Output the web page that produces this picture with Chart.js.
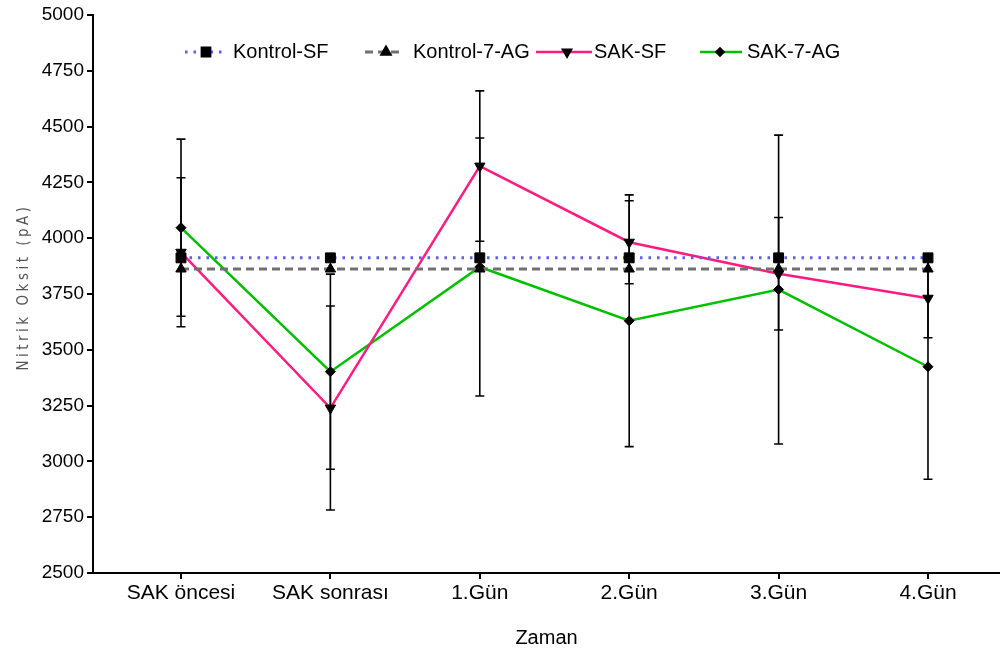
<!DOCTYPE html>
<html>
<head>
<meta charset="utf-8">
<script src="https://cdn.jsdelivr.net/npm/chart.js@4.4.1/dist/chart.umd.min.js"></script>
<style>
    html, body { margin: 0; padding: 0; background: #fff; overflow: hidden; }
</style>
</head>
<body>
<canvas id="noChart" width="1000" height="652"></canvas>
<script>
// Time points (x axis)
const timeLabels = ['SAK öncesi', 'SAK sonrası', '1.Gün', '2.Gün', '3.Gün', '4.Gün'];

// Y axis ticks
const yMin = 2500;
const yMax = 5000;
const yStep = 250;

// Series means
const kontrolSF = [3912, 3912, 3912, 3912, 3912, 3912];
const kontrol7AG = [3862, 3862, 3862, 3862, 3862, 3862];
const sakSF = [3937, 3239, 4323, 3982, 3841, 3731];
const sak7AG = [4047, 3402, 3871, 3630, 3770, 3424];

// Error bars (SEM, +/-)
const sakSFErr = [334, 457, 337, 186, 252, 177];
const sak7AGErr = [397, 437, 578, 564, 692, 504];

const toPoints = arr => arr.map((v, i) => ({ x: i, y: v }));

const seriesStyles = [
    { label: 'Kontrol-SF', data: kontrolSF, err: null, color: '#5c5cf2', dash: [2.5, 6], width: 3, pointStyle: 'rect', radius: 7, rotation: 0 },
    { label: 'Kontrol-7-AG', data: kontrol7AG, err: null, color: '#707070', dash: [8, 5], width: 3, pointStyle: 'triangle', radius: 6, rotation: 0 },
    { label: 'SAK-SF', data: sakSF, err: sakSFErr, color: '#ff1a80', dash: [], width: 2.5, pointStyle: 'triangle', radius: 6, rotation: 180 },
    { label: 'SAK-7-AG', data: sak7AG, err: sak7AGErr, color: '#00c000', dash: [], width: 2.5, pointStyle: 'rectRot', radius: 5, rotation: 0 }
];

// Legend layout: marker centre x, line half-lengths
const legendX = [206, 386, 567, 720];
const legendLineL = [21, 21, 31, 20];
const legendLineR = [16, 17, 25, 22];
const legendY = 52;

// Error bars drawn through the chart scales
const errorBarPlugin = {
    id: 'errorBars',
    beforeDatasetsDraw(chart) {
        const ctx = chart.ctx;
        const xs = chart.scales.x;
        const ys = chart.scales.y;
        ctx.save();
        ctx.strokeStyle = '#000';
        ctx.lineWidth = 1.6;
        seriesStyles.forEach(s => {
            if (!s.err) return;
            s.data.forEach((v, i) => {
                const px = xs.getPixelForValue(i);
                const top = ys.getPixelForValue(v + s.err[i]);
                const bot = ys.getPixelForValue(v - s.err[i]);
                ctx.beginPath();
                ctx.moveTo(px, top);
                ctx.lineTo(px, bot);
                ctx.moveTo(px - 4.5, top);
                ctx.lineTo(px + 4.5, top);
                ctx.moveTo(px - 4.5, bot);
                ctx.lineTo(px + 4.5, bot);
                ctx.stroke();
            });
        });
        ctx.restore();
    }
};

// Legend inside the plot + spaced y title
const extrasPlugin = {
    id: 'extras',
    afterDraw(chart) {
        const ctx = chart.ctx;
        ctx.save();
        seriesStyles.forEach((s, i) => {
            const cx = legendX[i];
            ctx.strokeStyle = s.color;
            ctx.lineWidth = s.width;
            ctx.setLineDash(s.dash);
            ctx.beginPath();
            ctx.moveTo(cx - legendLineL[i], legendY);
            ctx.lineTo(cx + legendLineR[i], legendY);
            ctx.stroke();
            ctx.setLineDash([]);
            ctx.fillStyle = '#000';
            ctx.strokeStyle = '#000';
            Chart.helpers.drawPoint(ctx, {
                pointStyle: s.pointStyle,
                radius: s.radius - 1.5,
                rotation: s.rotation,
                borderWidth: 1
            }, cx, legendY);
            ctx.fillStyle = '#000';
            ctx.font = '20px "Liberation Sans", Arial, sans-serif';
            ctx.textBaseline = 'middle';
            ctx.textAlign = 'left';
            ctx.fillText(s.label, cx + 27, legendY);
        });

        // Y axis title
        ctx.translate(24, 287);
        ctx.rotate(-Math.PI / 2);
        ctx.fillStyle = '#555';
        ctx.font = '15px "Liberation Sans Narrow", "DejaVu Sans Condensed", sans-serif';
        if ('letterSpacing' in ctx) ctx.letterSpacing = '3.5px';
        ctx.textAlign = 'center';
        ctx.textBaseline = 'middle';
        ctx.fillText('Nitrik Oksit (pA)', 0, 0);
        ctx.restore();
    }
};

const datasets = seriesStyles.map(s => ({
    label: s.label,
    data: toPoints(s.data),
    borderColor: s.color,
    borderWidth: s.width,
    borderDash: s.dash,
    pointStyle: s.pointStyle,
    pointRadius: s.radius,
    pointRotation: s.rotation,
    pointBackgroundColor: '#000',
    pointBorderColor: '#000',
    pointBorderWidth: 1,
    tension: 0,
    fill: false
}));

const ctx = document.getElementById('noChart');
new Chart(ctx, {
    type: 'line',
    data: { datasets: datasets },
    options: {
        responsive: false,
        animation: false,
        layout: { autoPadding: false, padding: { top: 15, right: 0, left: 0, bottom: 0 } },
        plugins: {
            legend: { display: false },
            tooltip: { enabled: false }
        },
        scales: {
            x: {
                type: 'linear',
                min: -0.589,
                max: 5.482,
                afterBuildTicks: scale => {
                    scale.ticks = timeLabels.map((_, i) => ({ value: i }));
                },
                afterFit: scale => {
                    scale.height = 79;
                    scale.paddingLeft = 0;
                    scale.paddingRight = 0;
                },
                ticks: {
                    color: '#000',
                    font: { family: '"Liberation Sans", Arial, sans-serif', size: 21 },
                    padding: 2,
                    maxRotation: 0,
                    autoSkip: false,
                    callback: v => timeLabels[v]
                },
                grid: { drawOnChartArea: false, color: '#000', lineWidth: 2, tickLength: 6 },
                border: { display: true, color: '#000', width: 2 },
                title: {
                    display: true,
                    text: 'Zaman',
                    color: '#000',
                    font: { family: '"Liberation Sans", Arial, sans-serif', size: 20 },
                    padding: { top: 0, bottom: 2 }
                }
            },
            y: {
                min: yMin,
                max: yMax,
                afterFit: scale => { scale.width = 93; },
                ticks: {
                    stepSize: yStep,
                    color: '#000',
                    font: { family: '"Liberation Sans", Arial, sans-serif', size: 19 },
                    padding: 3,
                    callback: v => String(v)
                },
                grid: { drawOnChartArea: false, color: '#000', lineWidth: 2, tickLength: 6 },
                border: { display: true, color: '#000', width: 2 }
            }
        }
    },
    plugins: [errorBarPlugin, extrasPlugin]
});
</script>
</body>
</html>
